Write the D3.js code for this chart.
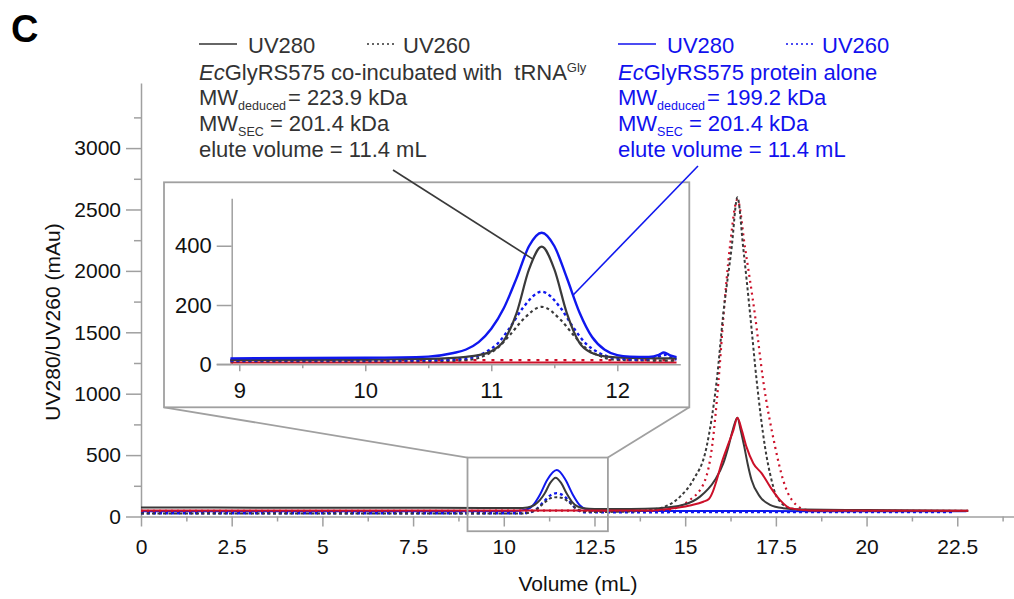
<!DOCTYPE html>
<html>
<head>
<meta charset="utf-8">
<script src="https://cdn.jsdelivr.net/npm/d3@7/dist/d3.min.js"></script>
<style>
body { margin: 0; background: #fff; }
svg { font-family: "Liberation Sans", Arial, sans-serif; }
</style>
</head>
<body>
<div id="chart"></div>
<script>
// SEC traces, [volume mL, absorbance mAu]
// black = EcGlyRS575 + tRNAGly, blue = protein alone, red = third run (no legend)
var tRNA280 = [[0,73],[4,72],[8,71],[10.4,69],[10.65,74],[10.85,95],[11.0,135],[11.13,189],[11.28,274],[11.43,316],[11.58,274],[11.73,189],[11.88,120],[12.03,82],[12.2,67],[12.5,62],[13.5,62],[14.3,68],[14.95,95],[15.41,162],[15.82,297],[16.05,432],[16.19,567],[16.31,703],[16.44,805],[16.53,703],[16.63,567],[16.72,432],[16.83,297],[17.06,162],[17.34,95],[17.7,68],[18.3,56],[20,52],[22.8,46]];
var tRNA260 = [[0,25],[10.5,25],[10.75,35],[10.95,70],[11.15,120],[11.3,150],[11.46,157],[11.62,150],[11.8,115],[12.0,65],[12.2,40],[12.5,37],[13.5,40],[14.3,68],[14.86,162],[15.22,297],[15.59,567],[15.87,1108],[16.05,1648],[16.28,2188],[16.44,2599],[16.6,2188],[16.79,1648],[16.97,1108],[17.2,567],[17.38,297],[17.52,162],[17.89,68],[18.5,48],[22.8,44]];
var prot280 = [[0,42],[9,42],[10.3,44],[10.6,55],[10.8,90],[11.0,180],[11.2,300],[11.46,378],[11.7,300],[11.9,180],[12.1,90],[12.3,55],[12.5,46],[14,45],[22.75,43]];
var prot260 = [[0,27],[10.5,27],[10.7,32],[10.9,60],[11.1,120],[11.3,175],[11.46,190],[11.62,175],[11.82,120],[12.0,60],[12.2,35],[12.5,34],[16,36],[22.4,36]];
var red280 = [[0,48],[14,48],[14.49,60],[15.13,90],[15.5,120],[15.66,145],[15.76,200],[15.87,297],[16.0,432],[16.16,567],[16.33,703],[16.44,805],[16.56,703],[16.69,567],[16.88,432],[17.11,351],[17.34,243],[17.61,135],[17.89,68],[18.44,49],[22.8,46]];
var red260 = [[0,46],[14,48],[14.49,54],[15.13,135],[15.55,297],[15.74,567],[15.92,1108],[16.06,1648],[16.23,2188],[16.44,2580],[16.65,2188],[16.92,1648],[17.15,1108],[17.48,567],[17.7,297],[17.94,135],[18.35,54],[19,48],[22.8,46]];

// inset, 9 - 12.5 mL
var inTRNA280 = [[8.93,15],[10,16],[10.5,18],[10.8,25],[10.9,31],[11.0,44],[11.1,80],[11.2,172],[11.3,321],[11.4,397],[11.5,321],[11.6,172],[11.7,72],[11.8,38],[11.9,27],[12.1,22],[12.47,20]];
var inTRNA260 = [[8.93,10],[10.5,10],[10.8,14],[10.95,30],[11.05,55],[11.15,100],[11.25,150],[11.4,194],[11.55,150],[11.65,100],[11.75,55],[11.85,30],[12.0,15],[12.47,12]];
var inProt280 = [[8.93,20],[10,22],[10.5,26],[10.7,38],[10.8,50],[10.9,75],[11.0,120],[11.1,190],[11.2,290],[11.3,399],[11.4,444],[11.5,399],[11.6,291],[11.7,175],[11.8,92],[11.9,49],[12.0,31],[12.1,26],[12.25,25],[12.33,32],[12.37,40],[12.42,30],[12.47,24]];
var inProt260 = [[8.93,13],[10.5,14],[10.8,20],[10.95,40],[11.05,70],[11.15,125],[11.25,190],[11.4,245],[11.55,190],[11.65,125],[11.75,70],[11.85,40],[12.0,20],[12.2,16],[12.33,26],[12.38,32],[12.43,22],[12.47,16]];
var inRed280 = [[8.93,6],[12.47,6]];
var inRed260 = [[8.93,14],[12.47,14]];

var xTicks = [0, 2.5, 5, 7.5, 10, 12.5, 15, 17.5, 20, 22.5];
var xMinor = [1.25, 3.75, 6.25, 8.75, 11.25, 13.75, 16.25, 18.75, 21.25, 23.75];
var yTicks = [0, 500, 1000, 1500, 2000, 2500, 3000];
var yMinor = [250, 750, 1250, 1750, 2250, 2750, 3250];
var inXTicks = [9, 10, 11, 12];
var inXMinor = [9.5, 10.5, 11.5];
var inYTicks = [0, 200, 400];
var zoomBox = { v0: 9, v1: 12.87, a0: -120, a1: 480 };

var BLACK = "#3a3a3a", BLUE = "#0f17ee", RED = "#cc1029", AX = "#a0a0a0";
var plain = function(d) { return String(d); };

var svg = d3.select("#chart").append("svg")
	.attr("width", 1014)
	.attr("height", 599);

var x = d3.scaleLinear().domain([0, 24.05]).range([141, 1013.5]);
var y = d3.scaleLinear().domain([0, 3530]).range([516.5, 83]);

var xi = d3.scaleLinear().domain([8.94, 12.5]).range([231.7, 680.3]);
var yi = d3.scaleLinear().domain([0, 560]).range([364.3, 198.3]);

function styleAxis(g, size) {
	g.selectAll("path.domain").attr("stroke", AX).attr("stroke-width", 1.5);
	g.selectAll(".tick line").attr("stroke", AX).attr("stroke-width", 1.5);
	g.selectAll(".tick text").attr("fill", "#111").style("font-size", size + "px");
}

// main axes
var gx = svg.append("g").attr("transform", "translate(0," + y(0) + ")")
	.call(d3.axisBottom(x).tickValues(xTicks).tickSize(10).tickPadding(13).tickSizeOuter(0).tickFormat(plain));
styleAxis(gx, 21);
var gxm = svg.append("g").attr("transform", "translate(0," + y(0) + ")")
	.call(d3.axisBottom(x).tickValues(xMinor).tickSize(5).tickFormat(""));
gxm.select("path.domain").remove();
styleAxis(gxm, 21);

var gy = svg.append("g").attr("transform", "translate(" + x(0) + ",0)")
	.call(d3.axisLeft(y).tickValues(yTicks).tickSize(15).tickPadding(5).tickSizeOuter(0).tickFormat(plain));
styleAxis(gy, 21);
var gym = svg.append("g").attr("transform", "translate(" + x(0) + ",0)")
	.call(d3.axisLeft(y).tickValues(yMinor).tickSize(7).tickFormat(""));
gym.select("path.domain").remove();
styleAxis(gym, 21);

svg.append("text")
	.attr("x", 578).attr("y", 591)
	.attr("text-anchor", "middle")
	.style("font-size", "21px").attr("fill", "#111")
	.text("Volume (mL)");
svg.append("text")
	.attr("transform", "translate(60,322) rotate(-90)")
	.attr("text-anchor", "middle")
	.style("font-size", "21px").attr("fill", "#111")
	.text("UV280/UV260 (mAu)");

svg.append("text")
	.attr("x", 11).attr("y", 42)
	.style("font-size", "38px").style("font-weight", "bold")
	.text("C");

// main traces
var line = d3.line()
	.x(function(d) { return x(d[0]); })
	.y(function(d) { return y(d[1]); })
	.curve(d3.curveMonotoneX);

var traces = [
	{ data: prot260, color: BLUE, dash: "3,3", w: 2.4 },
	{ data: prot280, color: BLUE, dash: null, w: 2 },
	{ data: red260, color: RED, dash: "2,4", w: 2.2 },
	{ data: tRNA260, color: BLACK, dash: "3,2.5", w: 2 },
	{ data: tRNA280, color: BLACK, dash: null, w: 2 },
	{ data: red280, color: RED, dash: null, w: 2 }
];

svg.selectAll(".trace")
	.data(traces)
	.enter().append("path")
	.attr("class", "trace")
	.attr("d", function(d) { return line(d.data); })
	.attr("fill", "none")
	.attr("stroke", function(d) { return d.color; })
	.attr("stroke-width", function(d) { return d.w; })
	.attr("stroke-dasharray", function(d) { return d.dash; });

// zoom box on main plot + connectors to inset
var bx0 = x(zoomBox.v0), bx1 = x(zoomBox.v1), by0 = y(zoomBox.a1), by1 = y(zoomBox.a0);
var ib = { x0: 164, y0: 182.3, x1: 689.3, y1: 407.3 };

svg.append("rect")
	.attr("x", bx0).attr("y", by0)
	.attr("width", bx1 - bx0).attr("height", by1 - by0)
	.attr("fill", "none").attr("stroke", AX).attr("stroke-width", 1.8);
svg.append("line")
	.attr("x1", ib.x0).attr("y1", ib.y1).attr("x2", bx0).attr("y2", by0)
	.attr("stroke", AX).attr("stroke-width", 1.8);
svg.append("line")
	.attr("x1", ib.x1).attr("y1", ib.y1).attr("x2", bx1).attr("y2", by0)
	.attr("stroke", AX).attr("stroke-width", 1.8);

// inset
svg.append("rect")
	.attr("x", ib.x0).attr("y", ib.y0)
	.attr("width", ib.x1 - ib.x0).attr("height", ib.y1 - ib.y0)
	.attr("fill", "#fff").attr("stroke", AX).attr("stroke-width", 1.8);

var gix = svg.append("g").attr("transform", "translate(0," + yi(0) + ")")
	.call(d3.axisBottom(xi).tickValues(inXTicks).tickSize(7).tickPadding(11).tickSizeOuter(0).tickFormat(plain));
styleAxis(gix, 22);
var gixm = svg.append("g").attr("transform", "translate(0," + yi(0) + ")")
	.call(d3.axisBottom(xi).tickValues(inXMinor).tickSize(4).tickFormat(""));
gixm.select("path.domain").remove();
styleAxis(gixm, 22);
svg.append("line")
	.attr("x1", 216.7).attr("x2", xi(8.94))
	.attr("y1", yi(0)).attr("y2", yi(0))
	.attr("stroke", AX).attr("stroke-width", 1.5);

var giy = svg.append("g").attr("transform", "translate(" + xi(8.94) + ",0)")
	.call(d3.axisLeft(yi).tickValues(inYTicks).tickSize(15).tickPadding(5).tickSizeOuter(0).tickFormat(plain));
styleAxis(giy, 22);

var iline = d3.line()
	.x(function(d) { return xi(d[0]); })
	.y(function(d) { return yi(d[1]); })
	.curve(d3.curveMonotoneX);

var itraces = [
	{ data: inRed260, color: RED, dash: "3,6", w: 2.2 },
	{ data: inRed280, color: RED, dash: null, w: 2 },
	{ data: inTRNA260, color: BLACK, dash: "3,3", w: 2.2 },
	{ data: inProt260, color: BLUE, dash: "3,3", w: 2.4 },
	{ data: inTRNA280, color: BLACK, dash: null, w: 2.2 },
	{ data: inProt280, color: BLUE, dash: null, w: 2.4 }
];

svg.selectAll(".itrace")
	.data(itraces)
	.enter().append("path")
	.attr("class", "itrace")
	.attr("d", function(d) { return iline(d.data); })
	.attr("fill", "none")
	.attr("stroke", function(d) { return d.color; })
	.attr("stroke-width", function(d) { return d.w; })
	.attr("stroke-dasharray", function(d) { return d.dash; });

// annotation pointers
svg.append("line")
	.attr("x1", 393).attr("y1", 170)
	.attr("x2", xi(11.33)).attr("y2", yi(355))
	.attr("stroke", BLACK).attr("stroke-width", 1.6);
svg.append("line")
	.attr("x1", 698).attr("y1", 166)
	.attr("x2", xi(11.65)).attr("y2", yi(234))
	.attr("stroke", BLUE).attr("stroke-width", 1.6);

// annotation blocks
function annot(x0, color, title, mwDed, mwSec, tRNA) {
	var g = svg.append("g").attr("fill", color).style("font-size", "22px");

	// legend row
	g.append("line").attr("x1", x0).attr("x2", x0 + 38).attr("y1", 44).attr("y2", 44)
		.attr("stroke", color).attr("stroke-width", 1.5);
	g.append("text").attr("x", x0 + 49).attr("y", 53).text("UV280");
	g.append("line").attr("x1", x0 + 168).attr("x2", x0 + 196).attr("y1", 44).attr("y2", 44)
		.attr("stroke", color).attr("stroke-width", 1.5).attr("stroke-dasharray", "2,3");
	g.append("text").attr("x", x0 + 204).attr("y", 53).text("UV260");

	var t1 = g.append("text").attr("x", x0).attr("y", 80).style("white-space", "pre");
	t1.append("tspan").style("font-style", "italic").text("Ec");
	t1.append("tspan").text(title);
	if (tRNA) {
		t1.append("tspan").attr("dx", 12).text("tRNA");
		t1.append("tspan").attr("dy", -8).style("font-size", "13px").text("Gly");
	}

	var t2 = g.append("text").attr("x", x0).attr("y", 105);
	t2.append("tspan").text("MW");
	t2.append("tspan").attr("dy", 5).style("font-size", "12.5px").text("deduced");
	t2.append("tspan").attr("dy", -5).attr("dx", 2).text("= " + mwDed + " kDa");

	var t3 = g.append("text").attr("x", x0).attr("y", 130.5);
	t3.append("tspan").text("MW");
	t3.append("tspan").attr("dy", 5).style("font-size", "12.5px").text("SEC");
	t3.append("tspan").attr("dy", -5).text(" = " + mwSec + " kDa");

	g.append("text").attr("x", x0).attr("y", 157).text("elute volume = 11.4 mL");
}

annot(199, "#333", "GlyRS575 co-incubated with", "223.9", "201.4", true);
annot(618, "#1111ee", "GlyRS575 protein alone", "199.2", "201.4", false);
</script>
</body>
</html>
